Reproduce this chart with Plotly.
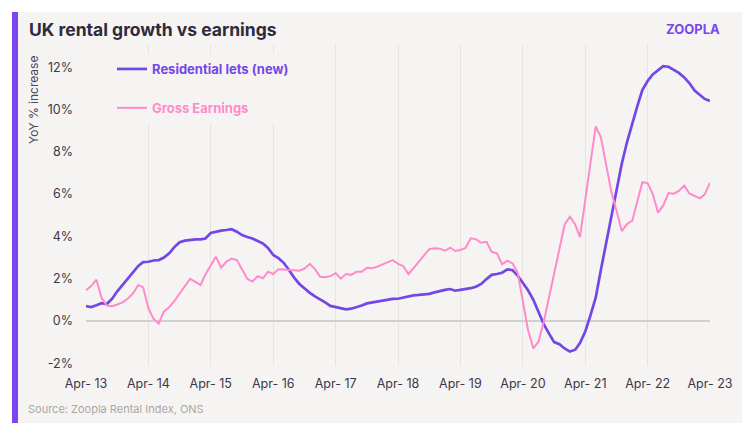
import pandas as pd
import plotly.graph_objects as go

months = pd.date_range("2013-04-01", periods=121, freq="MS")

residential_lets = [
    0.70, 0.66, 0.74, 0.84, 0.80, 1.05, 1.40, 1.70, 2.00, 2.30, 2.60, 2.78,
    2.80, 2.86, 2.88, 3.00, 3.20, 3.50, 3.72, 3.80, 3.84, 3.86, 3.86, 3.90,
    4.16, 4.22, 4.27, 4.30, 4.34, 4.22, 4.06, 3.97, 3.90, 3.78, 3.66, 3.45,
    3.12, 2.97, 2.75, 2.42, 2.05, 1.75, 1.52, 1.33, 1.16, 1.03, 0.87, 0.71,
    0.66, 0.60, 0.55, 0.58, 0.65, 0.73, 0.83, 0.88, 0.93, 0.97, 1.02, 1.04,
    1.05, 1.10, 1.18, 1.21, 1.23, 1.25, 1.28, 1.35, 1.42, 1.47, 1.51, 1.43,
    1.47, 1.50, 1.55, 1.62, 1.75, 1.98, 2.18, 2.22, 2.28, 2.44, 2.40, 2.15,
    1.82, 1.45, 1.00, 0.45, -0.15, -0.60, -1.00, -1.10, -1.30, -1.45, -1.36, -1.05,
    -0.50, 0.25, 1.10, 2.40, 3.70, 4.95, 6.20, 7.45, 8.45, 9.35, 10.20, 10.92,
    11.35, 11.66, 11.87, 12.05, 12.02, 11.88, 11.73, 11.52, 11.25, 10.90, 10.68, 10.50,
    10.40,
]

gross_earnings = [
    1.45, 1.65, 1.95, 1.10, 0.73, 0.70, 0.78, 0.88, 1.05, 1.30, 1.70, 1.60,
    0.60, 0.10, -0.12, 0.45, 0.65, 0.95, 1.30, 1.65, 1.99, 1.85, 1.70, 2.20,
    2.65, 3.04, 2.52, 2.80, 2.95, 2.88, 2.45, 1.99, 1.86, 2.12, 2.02, 2.33,
    2.22, 2.44, 2.43, 2.42, 2.40, 2.38, 2.48, 2.70, 2.45, 2.09, 2.07, 2.12,
    2.26, 2.00, 2.22, 2.18, 2.33, 2.33, 2.52, 2.49, 2.57, 2.66, 2.78, 2.88,
    2.70, 2.60, 2.22, 2.50, 2.80, 3.10, 3.40, 3.44, 3.42, 3.32, 3.47, 3.31,
    3.36, 3.45, 3.91, 3.87, 3.70, 3.74, 3.27, 3.20, 2.68, 2.85, 2.72, 2.30,
    0.90, -0.43, -1.30, -0.98, -0.05, 1.15, 2.30, 3.50, 4.55, 4.93, 4.56, 3.96,
    5.80, 7.60, 9.20, 8.70, 7.40, 6.10, 5.20, 4.25, 4.58, 4.74, 5.70, 6.56,
    6.52, 6.00, 5.12, 5.45, 6.05, 6.02, 6.15, 6.40, 6.03, 5.90, 5.80, 5.99,
    6.54,
]

x_tick_dates = [f"{y}-04-01" for y in range(2013, 2024)]
x_tick_labels = [f"Apr- {y % 100}" for y in range(2013, 2024)]
y_tick_vals = [-2, 0, 2, 4, 6, 8, 10, 12]
y_tick_labels = [f"{v}%" for v in y_tick_vals]

PURPLE = "#7446e6"
PINK = "#ff8acb"
CARD = "#f6f4f2"
FONT = "Inter"

# plot area in pixels
L, R, T, B = 86, 710, 45, 366
W, H = 750, 433


def px_x(p):
    return (p - L) / (R - L)


def px_y(p):
    return (B - p) / (B - T)


fig = go.Figure()
fig.add_trace(go.Scatter(
    x=months, y=residential_lets, mode="lines",
    name=f"<span style='color:{PURPLE}'><b>Residential lets (new)</b></span>",
    line=dict(color=PURPLE, width=2.7), legendgroup="a",
))
fig.add_trace(go.Scatter(
    x=months, y=gross_earnings, mode="lines",
    name=f"<span style='color:{PINK}'><b>Gross Earnings</b></span>",
    line=dict(color=PINK, width=2.0), legendgroup="b",
))

shapes = [
    dict(type="rect", xref="paper", yref="paper", layer="below",
         x0=px_x(12), x1=px_x(742), y0=px_y(423), y1=px_y(12),
         fillcolor=CARD, line=dict(width=0)),
    dict(type="rect", xref="paper", yref="paper", layer="above",
         x0=px_x(12), x1=px_x(18), y0=px_y(423), y1=px_y(12),
         fillcolor="#7b45f0", line=dict(width=0)),
]

annotations = [
    dict(text="<b>UK rental growth vs earnings</b>", xref="paper", yref="paper",
         x=px_x(27), y=px_y(29), xanchor="left", yanchor="middle", showarrow=False,
         font=dict(family=FONT, size=17.5, color="#2e2b3b")),
    dict(text="<b>ZOOPLA</b>", xref="paper", yref="paper",
         x=px_x(722), y=px_y(29), xanchor="right", yanchor="middle", showarrow=False,
         font=dict(family=FONT, size=13, color="#7b45f0")),
    dict(text="YoY % increase", xref="paper", yref="paper", textangle=-90,
         x=px_x(33), y=px_y(100), xanchor="center", yanchor="middle", showarrow=False,
         font=dict(family=FONT, size=12, color="#4a4858")),
    dict(text="Source: Zoopla Rental Index, ONS", xref="paper", yref="paper",
         x=px_x(26), y=px_y(409), xanchor="left", yanchor="middle", showarrow=False,
         font=dict(family=FONT, size=11, color="#a9a7a6")),
]

fig.update_layout(
    width=W, height=H,
    margin=dict(l=L, r=W - R, t=T, b=H - B),
    paper_bgcolor="white", plot_bgcolor=CARD,
    font=dict(family=FONT, size=12, color="#3a3848"),
    shapes=shapes, annotations=annotations,
    showlegend=True,
    legend=dict(x=px_x(112), y=px_y(54), xanchor="left", yanchor="top",
                bgcolor=CARD, traceorder="grouped", tracegroupgap=19,
                font=dict(family=FONT, size=13)),
    xaxis=dict(type="date", range=["2013-04-01", "2023-04-01"],
               tickvals=x_tick_dates, ticktext=x_tick_labels,
               showgrid=True, gridcolor="#e6e3e1", gridwidth=1,
               zeroline=False, showline=False, ticks="",
               tickfont=dict(size=12.5, color="#3a3848"), ticklabelstandoff=8),
    yaxis=dict(range=[-2.13, 13.05], tickvals=y_tick_vals, ticktext=y_tick_labels,
               showgrid=False, zeroline=True, zerolinecolor="#d2d0ce", zerolinewidth=1.5,
               showline=False, ticks="",
               tickfont=dict(size=12.5, color="#3a3848"), ticklabelstandoff=12),
)

fig.write_html("out.html")
